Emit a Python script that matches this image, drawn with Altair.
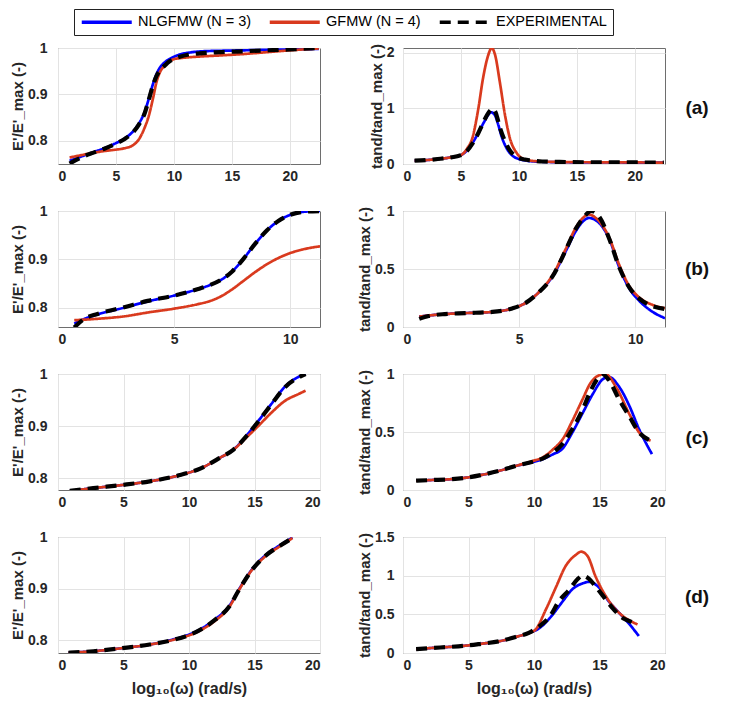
import altair as alt
import pandas as pd

FONT = "Liberation Sans"
SERIES = ["NLGFMW (N = 3)", "GFMW (N = 4)", "EXPERIMENTAL"]
COLORS = ["#0000FF", "#D93A1E", "#000000"]
DASHES = [[1, 0], [1, 0], [11, 7]]
WIDTHS = [2.7, 2.7, 4.2]

# ---------------- panel (a) ----------------
A_L_EXP_X = [1, 2, 3, 4, 5, 5.75, 6.5, 7, 7.5, 7.8, 8.2, 8.5, 8.8, 9.2, 9.6, 10, 10.5, 11.3, 12.5, 14, 16, 18, 20, 22.5]
A_L_EXP_Y = [0.751, 0.764, 0.774, 0.783, 0.794, 0.804, 0.819, 0.836, 0.861, 0.886, 0.92, 0.94, 0.952, 0.962, 0.971, 0.976, 0.981, 0.986, 0.989, 0.991, 0.993, 0.995, 0.997, 1.0]
A_L_NLG_X = A_L_EXP_X
A_L_NLG_Y = [0.757, 0.766, 0.775, 0.784, 0.795, 0.805, 0.821, 0.838, 0.864, 0.888, 0.923, 0.944, 0.958, 0.969, 0.976, 0.981, 0.986, 0.99, 0.993, 0.994, 0.995, 0.996, 0.997, 0.998]
A_L_GF_X = A_L_EXP_X
A_L_GF_Y = [0.764, 0.769, 0.774, 0.778, 0.781, 0.784, 0.791, 0.804, 0.83, 0.851, 0.892, 0.927, 0.948, 0.962, 0.971, 0.976, 0.978, 0.98, 0.982, 0.984, 0.987, 0.991, 0.995, 0.999]

A_R_EXP_X = [1, 2, 3, 4, 5, 5.5, 6, 6.5, 7, 7.3, 7.55, 7.75, 8.0, 8.35, 8.8, 9.2, 9.6, 10, 10.5, 11, 12, 14, 17, 20, 22.5]
A_R_EXP_Y = [0.06, 0.07, 0.09, 0.115, 0.16, 0.23, 0.37, 0.56, 0.78, 0.9, 0.97, 1.0, 0.92, 0.66, 0.41, 0.25, 0.16, 0.11, 0.08, 0.065, 0.045, 0.035, 0.03, 0.028, 0.026]
A_R_NLG_X = [1, 2, 3, 4, 5, 5.5, 6, 6.5, 7, 7.3, 7.6, 7.9, 8.2, 8.5, 8.8, 9.1, 9.5, 10, 10.5, 11, 12, 14, 17, 20, 22.5]
A_R_NLG_Y = [0.06, 0.07, 0.09, 0.115, 0.16, 0.24, 0.38, 0.56, 0.76, 0.87, 0.93, 0.89, 0.72, 0.5, 0.34, 0.23, 0.14, 0.09, 0.065, 0.05, 0.04, 0.032, 0.028, 0.026, 0.025]
A_R_GF_X = [1, 2, 3, 4, 5, 5.5, 6, 6.5, 6.9, 7.35, 7.65, 7.95, 8.35, 8.8, 9.2, 9.8, 10.5, 11, 12, 14, 17, 20, 22.5]
A_R_GF_Y = [0.06, 0.07, 0.09, 0.115, 0.16, 0.27, 0.48, 1.0, 1.54, 1.96, 2.09, 1.96, 1.48, 0.88, 0.48, 0.2, 0.08, 0.06, 0.045, 0.035, 0.03, 0.028, 0.026]

# ---------------- panel (b) ----------------
B_L_EXP_X = [0.7, 1.1, 1.7, 2.85, 3.86, 5.0, 6.0, 6.5, 7.0, 7.5, 8.0, 8.5, 9.0, 9.5, 10.0, 10.5, 11.28]
B_L_EXP_Y = [0.759, 0.776, 0.787, 0.801, 0.814, 0.825, 0.838, 0.846, 0.857, 0.875, 0.902, 0.933, 0.96, 0.98, 0.992, 0.998, 1.0]
B_L_NLG_X = B_L_EXP_X
B_L_NLG_Y = [0.767, 0.776, 0.786, 0.8, 0.813, 0.825, 0.838, 0.846, 0.857, 0.875, 0.902, 0.933, 0.96, 0.98, 0.992, 0.998, 1.0]
B_L_GF_X = [0.7, 1.7, 2.85, 3.86, 5.0, 6.0, 6.5, 7.0, 7.5, 8.0, 8.5, 9.0, 9.5, 10.0, 10.5, 11.28]
B_L_GF_Y = [0.774, 0.777, 0.782, 0.79, 0.798, 0.807, 0.813, 0.823, 0.838, 0.856, 0.874, 0.89, 0.903, 0.913, 0.92, 0.927]

B_R_EXP_X = [0.7, 1.1, 1.7, 2.7, 3.85, 4.7, 5.3, 5.85, 6.45, 7.0, 7.45, 7.8, 8.1, 8.45, 8.9, 9.3, 9.75, 10.2, 10.75, 11.28]
B_R_EXP_Y = [0.07, 0.095, 0.11, 0.12, 0.13, 0.16, 0.21, 0.3, 0.44, 0.66, 0.85, 0.95, 1.0, 0.95, 0.75, 0.52, 0.34, 0.24, 0.18, 0.155]
B_R_NLG_X = [0.7, 1.7, 2.7, 3.85, 4.7, 5.3, 5.85, 6.45, 7.0, 7.45, 7.8, 8.0, 8.3, 8.9, 9.3, 9.75, 10.2, 10.75, 11.28]
B_R_NLG_Y = [0.09, 0.11, 0.12, 0.13, 0.16, 0.21, 0.3, 0.44, 0.65, 0.83, 0.92, 0.94, 0.92, 0.75, 0.52, 0.33, 0.22, 0.13, 0.076]
B_R_GF_X = B_R_NLG_X
B_R_GF_Y = [0.09, 0.11, 0.12, 0.13, 0.16, 0.21, 0.3, 0.45, 0.67, 0.86, 0.95, 0.97, 0.94, 0.76, 0.54, 0.35, 0.25, 0.19, 0.163]

# ---------------- panel (c) ----------------
C_L_EXP_X = [0.9, 2.7, 4.9, 7.0, 9.15, 10.9, 12.35, 13.4, 14.5, 15.2, 16.3, 17.3, 18.4, 18.9]
C_L_EXP_Y = [0.7755, 0.781, 0.787, 0.794, 0.805, 0.819, 0.839, 0.855, 0.884, 0.906, 0.942, 0.974, 0.994, 1.0]
C_L_NLG_X = C_L_EXP_X
C_L_NLG_Y = [0.7755, 0.781, 0.787, 0.794, 0.805, 0.819, 0.839, 0.855, 0.885, 0.907, 0.943, 0.975, 0.995, 1.0]
C_L_GF_X = C_L_EXP_X
C_L_GF_Y = [0.7755, 0.781, 0.787, 0.794, 0.805, 0.819, 0.839, 0.855, 0.881, 0.898, 0.926, 0.948, 0.962, 0.968]

C_R_EXP_X = [1.0, 2.2, 3.5, 4.8, 6.0, 7.3, 8.6, 9.9, 10.65, 11.4, 12.2, 12.9, 13.7, 14.3, 14.85, 15.2, 15.7, 16.5, 17.3, 18.0, 18.9]
C_R_EXP_Y = [0.08, 0.086, 0.092, 0.106, 0.13, 0.164, 0.207, 0.244, 0.27, 0.32, 0.4, 0.52, 0.69, 0.85, 0.96, 1.0, 0.95, 0.78, 0.63, 0.5, 0.425]
C_R_NLG_X = [1.0, 2.2, 3.5, 4.8, 6.0, 7.3, 8.6, 9.9, 10.65, 11.4, 12.2, 12.9, 13.7, 14.5, 15.2, 15.7, 16.5, 17.3, 18.0, 19.0]
C_R_NLG_Y = [0.08, 0.086, 0.092, 0.106, 0.13, 0.164, 0.207, 0.24, 0.265, 0.305, 0.36, 0.49, 0.66, 0.83, 0.95, 0.975, 0.89, 0.72, 0.53, 0.31]
C_R_GF_X = [1.0, 2.2, 3.5, 4.8, 6.0, 7.3, 8.6, 9.9, 10.65, 11.4, 12.2, 12.9, 13.7, 14.3, 15.0, 15.45, 16.25, 17.3, 18.0, 18.9]
C_R_GF_Y = [0.08, 0.086, 0.092, 0.106, 0.13, 0.164, 0.207, 0.25, 0.28, 0.345, 0.44, 0.59, 0.78, 0.92, 0.99, 1.0, 0.89, 0.65, 0.5, 0.425]

# ---------------- panel (d) ----------------
D_L_EXP_X = [0.8, 2.7, 4.9, 7.0, 8.8, 10.6, 12.0, 13.06, 13.8, 14.8, 15.9, 17.0, 17.9]
D_L_EXP_Y = [0.776, 0.779, 0.785, 0.792, 0.801, 0.817, 0.84, 0.865, 0.897, 0.936, 0.965, 0.984, 0.998]
D_L_NLG_X = D_L_EXP_X
D_L_NLG_Y = [0.776, 0.779, 0.785, 0.792, 0.802, 0.818, 0.841, 0.866, 0.898, 0.937, 0.966, 0.985, 0.999]
D_L_GF_X = D_L_EXP_X
D_L_GF_Y = [0.776, 0.779, 0.785, 0.792, 0.801, 0.816, 0.838, 0.864, 0.897, 0.936, 0.964, 0.983, 0.998]

D_R_EXP_X = [1.0, 2.2, 3.5, 4.8, 6.0, 7.3, 8.6, 9.6, 10.4, 11.2, 11.9, 12.7, 13.3, 13.7, 14.2, 14.7, 15.4, 16.0, 16.8, 17.5, 17.9]
D_R_EXP_Y = [0.05, 0.065, 0.078, 0.095, 0.12, 0.15, 0.207, 0.26, 0.345, 0.47, 0.67, 0.82, 0.95, 1.0, 0.96, 0.86, 0.71, 0.58, 0.45, 0.4, 0.375]
D_R_NLG_X = [1.0, 2.2, 3.5, 4.8, 6.0, 7.3, 8.6, 9.6, 10.4, 11.2, 12.2, 12.9, 13.7, 14.2, 15.0, 15.7, 16.5, 17.3, 18.0]
D_R_NLG_Y = [0.05, 0.065, 0.078, 0.095, 0.12, 0.15, 0.207, 0.26, 0.32, 0.45, 0.67, 0.82, 0.9, 0.92, 0.84, 0.67, 0.52, 0.37, 0.22]
D_R_GF_X = [1.0, 2.2, 3.5, 4.8, 6.0, 7.3, 8.6, 9.6, 10.1, 10.9, 11.7, 12.4, 13.2, 13.6, 14.1, 14.7, 15.5, 16.25, 17.0, 17.9]
D_R_GF_Y = [0.05, 0.065, 0.078, 0.095, 0.12, 0.15, 0.207, 0.26, 0.30, 0.56, 0.86, 1.12, 1.27, 1.31, 1.25, 0.99, 0.73, 0.56, 0.45, 0.37]

# ---------------- axes ----------------
XT_20 = [0, 5, 10, 15, 20]
XT_10 = [0, 5, 10]
YT_E = [0.8, 0.9, 1]
YT_A = [0, 1, 2]
YT_05 = [0, 0.5, 1]
YT_15 = [0, 0.5, 1, 1.5]
PANEL_LABELS = ["(a)", "(b)", "(c)", "(d)"]
Y_TITLE_L = "E'/E'_max (-)"
Y_TITLE_R = "tand/tand_max (-)"
X_TITLE = "log\u2081\u2080(\u03c9) (rad/s)"

W, H = 262, 116
# legend symbol: a long line drawn from a small nominal symbol size
LEG_PATH = "M-1,0H9"


def panel(xs, ys, xmax, ydom, yticks, xticks, ytitle, xtitle=None,
          legend=False, label=None, label_y=58, lpad=11):
    layers = []
    for i in range(3):
        df = pd.DataFrame({"x": xs[i], "y": ys[i], "series": SERIES[i]})
        if legend:
            leg = alt.Legend(title=None, orient="none", legendX=16, legendY=-39,
                             direction="horizontal", columns=3)
        else:
            leg = None
        xaxis = alt.Axis(values=xticks, format="d", title=xtitle)
        yaxis = alt.Axis(values=yticks, format=".2~f", title=ytitle,
                         labelPadding=lpad, titlePadding=2)
        layer = alt.Chart(df).mark_line(
            interpolate="monotone", clip=True, strokeWidth=WIDTHS[i],
            strokeCap="butt"
        ).encode(
            x=alt.X("x:Q", scale=alt.Scale(domain=[0, xmax], nice=False, zero=False), axis=xaxis),
            y=alt.Y("y:Q", scale=alt.Scale(domain=ydom, nice=False, zero=False), axis=yaxis),
            color=alt.Color("series:N", scale=alt.Scale(domain=SERIES, range=COLORS), legend=leg),
            strokeDash=alt.StrokeDash("series:N", scale=alt.Scale(domain=SERIES, range=DASHES), legend=leg),
        )
        layers.append(layer)
    if label is not None:
        t = alt.Chart(pd.DataFrame({"t": [label]})).mark_text(
            font=FONT, fontSize=19, fontWeight="bold", align="center",
            baseline="middle", color="#111111"
        ).encode(text="t:N", x=alt.value(W + 32), y=alt.value(label_y))
        layers.append(t)
    return alt.layer(*layers).properties(width=W, height=H)


panels = [
    panel([A_L_NLG_X, A_L_GF_X, A_L_EXP_X], [A_L_NLG_Y, A_L_GF_Y, A_L_EXP_Y],
          22.6, [0.75, 1.0], YT_E, XT_20, Y_TITLE_L, legend=True),
    panel([A_R_NLG_X, A_R_GF_X, A_R_EXP_X], [A_R_NLG_Y, A_R_GF_Y, A_R_EXP_Y],
          22.6, [0, 2.09], YT_A, XT_20, Y_TITLE_R, label=PANEL_LABELS[0], label_y=60, lpad=9),
    panel([B_L_NLG_X, B_L_GF_X, B_L_EXP_X], [B_L_NLG_Y, B_L_GF_Y, B_L_EXP_Y],
          11.28, [0.76, 1.0], YT_E, XT_10, Y_TITLE_L),
    panel([B_R_NLG_X, B_R_GF_X, B_R_EXP_X], [B_R_NLG_Y, B_R_GF_Y, B_R_EXP_Y],
          11.28, [0, 1], YT_05, XT_10, Y_TITLE_R, label=PANEL_LABELS[1], label_y=58, lpad=9),
    panel([C_L_NLG_X, C_L_GF_X, C_L_EXP_X], [C_L_NLG_Y, C_L_GF_Y, C_L_EXP_Y],
          20, [0.7774, 1.0], YT_E, XT_20, Y_TITLE_L),
    panel([C_R_NLG_X, C_R_GF_X, C_R_EXP_X], [C_R_NLG_Y, C_R_GF_Y, C_R_EXP_Y],
          20, [0, 1], YT_05, XT_20, Y_TITLE_R, label=PANEL_LABELS[2], label_y=64, lpad=9),
    panel([D_L_NLG_X, D_L_GF_X, D_L_EXP_X], [D_L_NLG_Y, D_L_GF_Y, D_L_EXP_Y],
          20, [0.7756, 1.0], YT_E, XT_20, Y_TITLE_L, xtitle=X_TITLE),
    panel([D_R_NLG_X, D_R_GF_X, D_R_EXP_X], [D_R_NLG_Y, D_R_GF_Y, D_R_EXP_Y],
          20, [0, 1.5], YT_15, XT_20, Y_TITLE_R, xtitle=X_TITLE,
          label=PANEL_LABELS[3], label_y=60, lpad=9),
]

chart = alt.concat(
    *panels, columns=2, spacing={"row": 47, "column": 83}, bounds="flush"
).resolve_scale(
    color="independent", strokeDash="independent"
).properties(
    padding={"left": 2, "top": 0, "right": 5, "bottom": 5}
).configure_view(
    stroke="#6E6E6E", strokeWidth=1
).configure_axis(
    domain=False, ticks=False, grid=True, gridColor="#E3E3E3", gridWidth=1,
    labelFont=FONT, labelFontSize=14, labelFontWeight="bold", labelColor="#262626",
    titleFont=FONT, titleFontSize=15, titleFontWeight="bold", titleColor="#262626",
).configure_axisX(
    labelPadding=5, titlePadding=8, titleFontSize=16
).configure_legend(
    labelFont=FONT, labelFontSize=14.5, labelColor="#000000", strokeColor="#222222",
    fillColor="#FFFFFF", padding=5.5, symbolType=LEG_PATH, symbolSize=100,
    symbolStrokeWidth=3.5, labelOffset=44, columnPadding=11, labelLimit=300
)

chart.save("out.html", embed_options={"renderer": "svg", "actions": False})
